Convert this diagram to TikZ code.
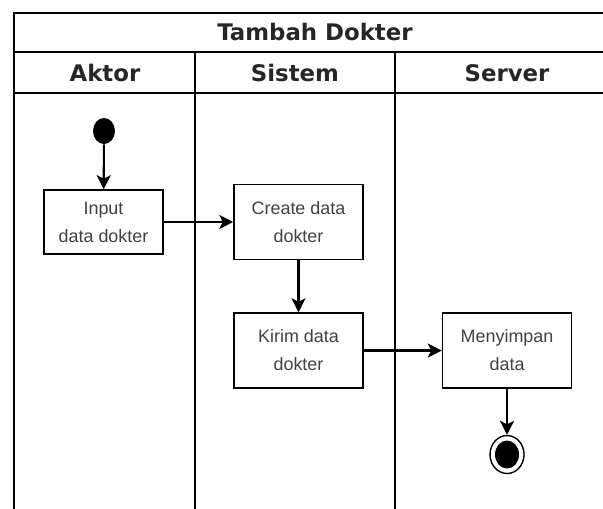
\documentclass[tikz,border=0pt]{standalone}
\usepackage{fontspec}
\setmainfont{Liberation Sans}
\newfontfamily\headfont{DejaVu Sans}
\usetikzlibrary{arrows.meta}
\usetikzlibrary{positioning}
\usetikzlibrary{shapes.geometric}

\begin{document}
\begin{tikzpicture}[x=0.02cm, y=-0.02cm,
    lane/.style={draw=black, line width=0.9pt},
    head/.style={font=\headfont\bfseries\fontsize{13}{15}\selectfont, text=black!85, anchor=base, inner sep=0pt},
    act/.style={rectangle, draw=black, line width=0.9pt, align=center, font=\fontsize{10.2}{15.9}\selectfont, text=black!75, inner sep=0pt},
    arrow/.style={line width=1.2pt, -{Stealth[length=2.8mm, width=2.8mm, inset=0.7mm]}}]

  \useasboundingbox (0,0) rectangle (603,509);

  % swimlanes
  \draw[lane] (603,13) -- (14,13) -- (14,509);
  \draw[lane] (14,52) -- (603,52);
  \draw[lane] (14,93) -- (603,93);
  \draw[lane] (195,52) -- (195,509);
  \draw[lane] (395,52) -- (395,509);

  \node[head] (title) at (315,41) {Tambah Dokter};
  \node[head] (aktor) at (105,82) {Aktor};
  \node[head] (sistem) at (295,82) {Sistem};
  \node[head] (server) at (507,82) {Server};

  % activities
  \node[ellipse, fill=black, inner sep=0pt, minimum width=0.44cm, minimum height=0.52cm] (start) at (104,131) {};
  \node[act, minimum width=2.38cm, minimum height=1.28cm] (input) at (103.5,222) {Input\\data dokter};
  \node[act, minimum width=2.58cm, minimum height=1.5cm] (create) at (298.5,222) {Create data\\dokter};
  \node[act, minimum width=2.58cm, minimum height=1.5cm, below=1.04cm of create] (kirim) {Kirim data\\dokter};
  \node[act, minimum width=2.58cm, minimum height=1.5cm, right=1.56cm of kirim] (simpan) {Menyimpan\\data};
  \node[ellipse, draw=black, line width=0.8pt, inner sep=0pt, minimum width=0.68cm, minimum height=0.76cm, below=0.92cm of simpan] (stop) {};
  \node[ellipse, fill=black, inner sep=0pt, minimum width=0.48cm, minimum height=0.56cm] (stopdot) at (stop) {};

  \draw[arrow] (start) -- (input);
  \draw[arrow] (input) -- (create);
  \draw[arrow] (create) -- (kirim);
  \draw[arrow] (kirim) -- (simpan);
  \draw[arrow] (simpan) -- (stop);
\end{tikzpicture}
\end{document}
